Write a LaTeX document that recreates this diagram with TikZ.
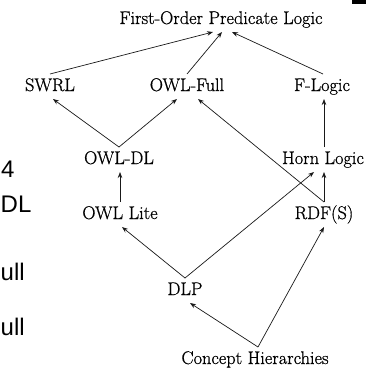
\documentclass[tikz,border=0pt]{standalone}
\usepackage{fontspec}
\newfontfamily\slidefont{Liberation Sans}
\newfontfamily\lblfont[FakeBold=0.7]{Latin Modern Roman}
\usetikzlibrary{arrows.meta}
\tikzset{
  lbl/.style={anchor=base, inner sep=4pt, outer sep=0pt, text height=13pt, text depth=4pt,
    font=\lblfont\fontsize{18.3}{20}\selectfont},
  arr/.style={draw=black!90, line width=0.7pt, -{Stealth[length=6pt,width=4.5pt]}},
  slide/.style={anchor=base west, inner sep=0pt, font=\slidefont\fontsize{24}{26}\selectfont}
}
\begin{document}
\begin{tikzpicture}[x=1pt,y=-1pt]
\fill[white] (0,0) rectangle (387,372);
\useasboundingbox (0,0) rectangle (387,372);
\fill[black] (352,0) rectangle (366,4);
% slide fragments
\node[slide] (s1) at (1,177) {4};
\node[slide] (s2) at (0.5,212) {DL};
\node[slide] (s3) at (0.5,280) {ull};
\node[slide] (s4) at (0.5,335) {ull};
% nodes
\node[lbl] (fopl) at (221,24) {First-Order Predicate Logic};
\node[lbl] (swrl) at (50,91) {SWRL};
\node[lbl] (owlfull) at (187,91) {OWL-Full};
\node[lbl] (flogic) at (322,91) {F-Logic};
\node[lbl] (owldl) at (119,164) {OWL-DL};
\node[lbl] (horn) at (323,164) {Horn Logic};
\node[lbl] (owllite) at (120,219) {OWL Lite};
\node[lbl] (rdfs) at (324,219) {RDF(S)};
\node[lbl] (dlp) at (185,295) {DLP};
\node[lbl] (concept) at (255,364) {Concept Hierarchies};
% edges
\draw[arr] (swrl.north) -- ([xshift=-8pt]fopl.south);
\draw[arr] (owlfull.north) -- ([xshift=1pt]fopl.south);
\draw[arr] ([xshift=1pt]flogic.north) -- ([xshift=11pt]fopl.south);
\draw[arr] (owldl.north) -- ([xshift=3pt]swrl.south);
\draw[arr] (owldl.north) -- ([xshift=-10pt]owlfull.south);
\draw[arr] (rdfs.north) -- ([xshift=11pt]owlfull.south);
\draw[arr] ([xshift=1pt]horn.north) -- ([xshift=1pt]horn.north |- flogic.south);
\draw[arr] (rdfs.north) -- (rdfs.north |- horn.south);
\draw[arr] (owllite.north) -- (owllite.north |- owldl.south);
\draw[arr] (dlp.north) -- ([xshift=2pt]owllite.south);
\draw[arr] (dlp.north) -- ([xshift=-9pt]horn.south);
\draw[arr] ([xshift=3pt]concept.north) -- ([xshift=5pt]dlp.south);
\draw[arr] ([xshift=3pt]concept.north) -- (rdfs.south);
\end{tikzpicture}
\end{document}
